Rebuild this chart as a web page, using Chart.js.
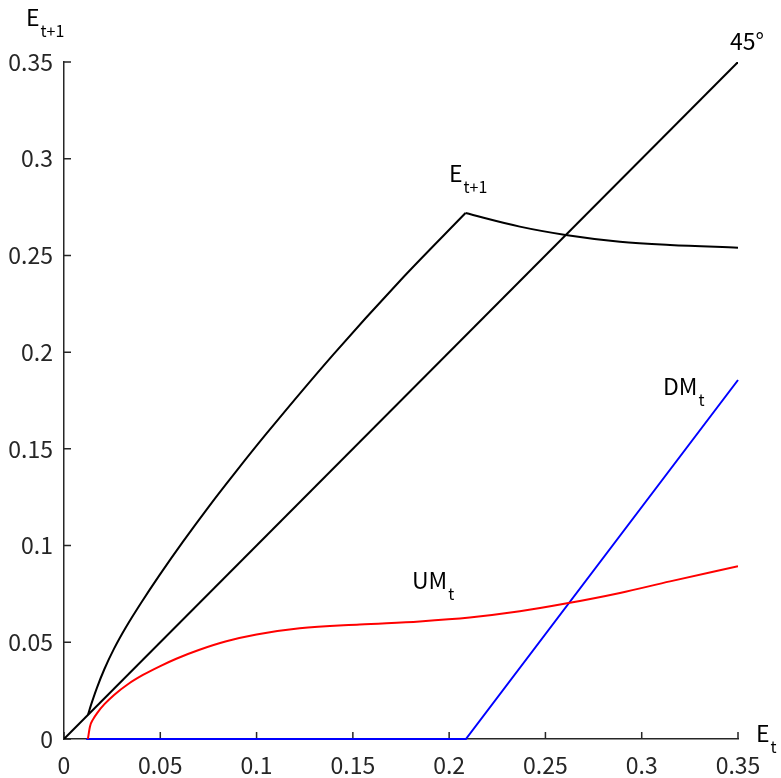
<!DOCTYPE html>
<html>
<head>
<meta charset="utf-8">
<script src="https://cdn.jsdelivr.net/npm/chart.js@4"></script>
<style>
  html, body { margin: 0; background: #fff; }
  canvas { display: block; }
</style>
</head>
<body>
<canvas id="chart" width="781" height="778"></canvas>
<script>
// axis ticks
let xTickLabels = ["0", "0.05", "0.1", "0.15", "0.2", "0.25", "0.3", "0.35"];
let yTickLabels = ["0", "0.05", "0.1", "0.15", "0.2", "0.25", "0.3", "0.35"];

// 45 degree line
let diagX = [0, 0.35];
let diagY = [0, 0.35];

// E_{t+1}: rising branch up to the peak, then falling branch
let eNextX = [0.0124, 0.014, 0.017, 0.021, 0.026, 0.032, 0.04, 0.0496, 0.0617, 0.0756, 0.0895, 0.105, 0.1397, 0.1744, 0.2085, 0.2367, 0.2605, 0.2887, 0.3147, 0.35];
let eNextY = [0.0124, 0.0175, 0.0262, 0.0362, 0.0467, 0.0575, 0.0703, 0.0847, 0.1019, 0.1207, 0.1385, 0.1577, 0.1986, 0.2368, 0.2719, 0.2649, 0.2606, 0.2571, 0.2554, 0.254];

// UM_t
let umX = [0.0124, 0.0135, 0.015, 0.0175, 0.021, 0.026, 0.033, 0.041, 0.05, 0.0583, 0.07, 0.0843, 0.1, 0.1224, 0.1536, 0.1847, 0.2107, 0.2367, 0.2605, 0.2887, 0.3147, 0.35];
let umY = [0, 0.0065, 0.01, 0.0138, 0.018, 0.0228, 0.0282, 0.0331, 0.0377, 0.0415, 0.046, 0.0505, 0.054, 0.0572, 0.0592, 0.0608, 0.0628, 0.066, 0.07, 0.0755, 0.0815, 0.0893];

// DM_t
let dmX = [0.0115, 0.2087, 0.35];
let dmY = [0, 0, 0.1856];

const FONT = "'Noto Sans CJK JP', 'Noto Sans', sans-serif";
const AXIS = "#262626";

function pts(xs, ys) {
    return xs.map((x, i) => ({ x: x, y: ys[i] }));
}

function line(data, color, extra) {
    return Object.assign({
        data: data,
        showLine: true,
        borderColor: color,
        borderWidth: 2,
        pointRadius: 0,
        fill: false,
        tension: 0
    }, extra || {});
}

function subText(ctx, main, sub, x, y) {
    ctx.font = "23px " + FONT;
    ctx.fillText(main, x, y);
    let w = ctx.measureText(main).width;
    ctx.font = "16px " + FONT;
    ctx.fillText(sub, x + w + 1, y + 11);
}

let overlay = {
    id: "overlay",
    beforeDatasetsDraw(chart) {
        let ctx = chart.ctx;
        let a = chart.chartArea;
        let sx = chart.scales.x, sy = chart.scales.y;
        ctx.save();
        ctx.strokeStyle = AXIS;
        ctx.lineWidth = 1.5;
        ctx.beginPath();
        sx.ticks.forEach(t => {
            let px = sx.getPixelForValue(t.value);
            ctx.moveTo(px, a.bottom);
            ctx.lineTo(px, a.bottom - 7);
        });
        sy.ticks.forEach(t => {
            let py = sy.getPixelForValue(t.value);
            ctx.moveTo(a.left, py);
            ctx.lineTo(a.left + 7, py);
        });
        ctx.stroke();
        ctx.restore();
    },
    afterDraw(chart) {
        let ctx = chart.ctx;
        ctx.save();
        ctx.fillStyle = "#000";
        ctx.textBaseline = "alphabetic";
        ctx.textAlign = "left";
        subText(ctx, "E", "t+1", 26, 26);
        subText(ctx, "E", "t+1", 449, 182);
        subText(ctx, "DM", "t", 663, 395);
        subText(ctx, "UM", "t", 412, 589);
        subText(ctx, "E", "t", 756, 742);
        ctx.font = "23px " + FONT;
        ctx.fillText("45°", 730, 50);
        ctx.restore();
    }
};

function axis(labels, fit, pad) {
    return {
        type: "linear",
        min: 0,
        max: 0.35,
        ticks: {
            stepSize: 0.05,
            autoSkip: false,
            maxRotation: 0,
            padding: pad,
            color: AXIS,
            font: { family: FONT, size: 23 },
            callback: (v, i) => labels[i]
        },
        grid: { display: false, drawTicks: false },
        border: { display: true, color: AXIS, width: 1.5 },
        afterFit: fit
    };
}

let peak = eNextY.indexOf(Math.max(...eNextY));
let eRise = pts(eNextX.slice(0, peak + 1), eNextY.slice(0, peak + 1));
let eFall = pts(eNextX.slice(peak), eNextY.slice(peak));

new Chart(document.getElementById("chart"), {
    type: "scatter",
    data: {
        datasets: [
            line(pts(diagX, diagY), "#000000"),
            line(eRise, "#000000", { cubicInterpolationMode: "monotone" }),
            line(eFall, "#000000", { cubicInterpolationMode: "monotone" }),
            line(pts(umX, umY), "#ff0000", { cubicInterpolationMode: "monotone" }),
            line(pts(dmX, dmY), "#0000ff", { clip: false })
        ]
    },
    options: {
        responsive: false,
        devicePixelRatio: 1,
        animation: false,
        layout: { padding: { top: 62, right: 43, left: 0, bottom: 0 } },
        plugins: {
            legend: { display: false },
            tooltip: { enabled: false }
        },
        scales: {
            x: axis(xTickLabels, s => { s.height = 39; }, 12),
            y: axis(yTickLabels, s => { s.width = 64; }, 11)
        }
    },
    plugins: [overlay]
});
</script>
</body>
</html>
